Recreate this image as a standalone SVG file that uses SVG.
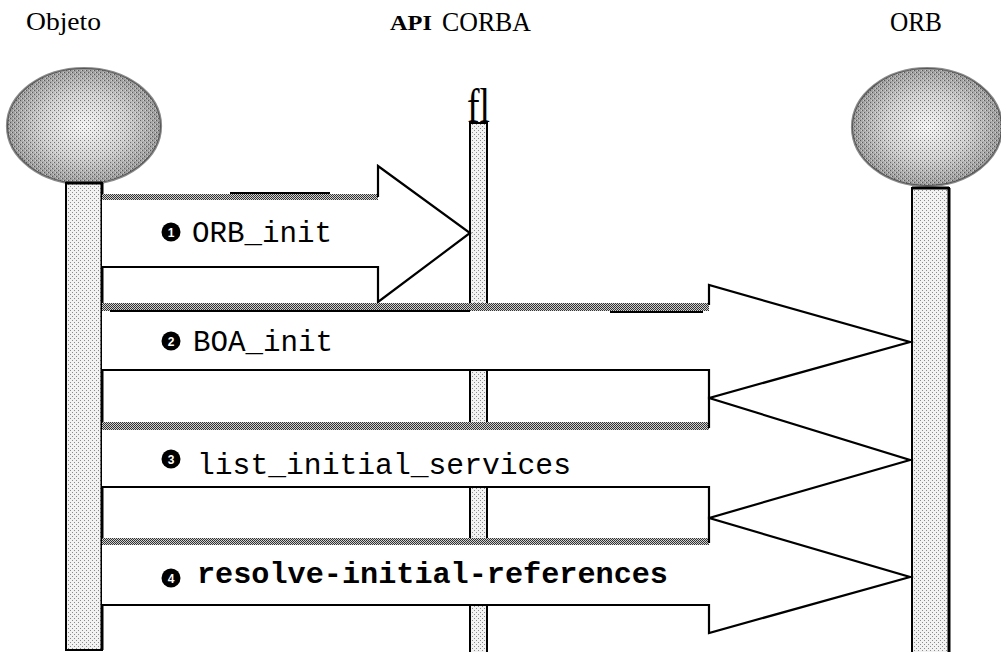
<svg xmlns="http://www.w3.org/2000/svg" width="1001" height="652" viewBox="0 0 1001 652">
<style>
.hdr{font-family:"Liberation Serif","Times New Roman",serif;fill:#000}
.lbl{font-family:"Liberation Mono","Courier New",monospace;fill:#000}
.edge{fill:none;stroke:#000;stroke-width:2.2;stroke-linejoin:miter}
.body{fill:#fff;stroke:none}
.bar{fill:url(#dith);stroke:#000;stroke-width:2}
.band{fill:url(#band)}
.bul{fill:#000}
.num{font-family:"Liberation Sans",Arial,sans-serif;font-size:12px;font-weight:bold;fill:#fff;text-anchor:middle}
</style>
<defs>
<pattern id="dith" width="4" height="4" patternUnits="userSpaceOnUse">
<rect width="4" height="4" fill="#f2f2f2"/>
<rect x="0" y="0" width="1" height="1" fill="#8a8a8a"/>
<rect x="2" y="2" width="1" height="1" fill="#8a8a8a"/>
</pattern>
<pattern id="band" width="2" height="2" patternUnits="userSpaceOnUse">
<rect width="2" height="2" fill="#d0d0d0"/>
<rect x="0" y="0" width="1" height="1" fill="#333"/>
<rect x="1" y="1" width="1" height="1" fill="#333"/>
</pattern>
<pattern id="dots" width="4" height="4" patternUnits="userSpaceOnUse">
<rect x="0" y="0" width="1" height="1" fill="#000"/>
<rect x="2" y="2" width="1" height="1" fill="#000"/>
<rect x="3" y="0" width="1" height="1" fill="#fff"/>
<rect x="1" y="2" width="1" height="1" fill="#fff"/>
</pattern>
<radialGradient id="eg" cx="0.5" cy="0.5" r="0.5">
<stop offset="0" stop-color="#f4f4f4"/>
<stop offset="0.55" stop-color="#d0d0d0"/>
<stop offset="1" stop-color="#9a9a9a"/>
</radialGradient>
</defs>
<rect width="1001" height="652" fill="#fff"/>

<g id="objeto">
<text class="hdr" x="26" y="30" font-size="25" textLength="75" lengthAdjust="spacingAndGlyphs">Objeto</text>
<ellipse cx="84" cy="126" rx="77" ry="58" fill="url(#eg)"/>
<ellipse cx="84" cy="126" rx="77" ry="58" fill="url(#dots)" opacity="0.45" stroke="#000" stroke-width="2.2"/>
<rect class="bar" x="66" y="183" width="36" height="467"/>
<line x1="102" y1="183" x2="102" y2="650" stroke="#000" stroke-width="3"/>
<line x1="66" y1="183" x2="102" y2="183" stroke="#000" stroke-width="3"/>
</g>

<g id="api-corba">
<text class="hdr" x="390" y="30" font-size="21" font-weight="bold" textLength="42" lengthAdjust="spacingAndGlyphs">API</text>
<text class="hdr" x="442" y="31" font-size="27" textLength="89" lengthAdjust="spacingAndGlyphs">CORBA</text>
<text class="hdr" x="467" y="122" font-size="48" textLength="23" lengthAdjust="spacingAndGlyphs">fl</text>
<rect class="bar" x="470" y="123" width="17" height="535"/>
</g>

<g id="orb">
<text class="hdr" x="890" y="31" font-size="27" textLength="52" lengthAdjust="spacingAndGlyphs">ORB</text>
<ellipse cx="927" cy="127" rx="75" ry="59" fill="url(#eg)"/>
<ellipse cx="927" cy="127" rx="75" ry="59" fill="url(#dots)" opacity="0.45" stroke="#000" stroke-width="2.2"/>
<rect class="bar" x="912" y="188" width="37" height="470"/>
<line x1="912" y1="188" x2="949" y2="188" stroke="#000" stroke-width="3"/>
<line x1="949" y1="188" x2="949" y2="652" stroke="#000" stroke-width="3"/>
</g>

<g id="connectors">
<g id="msg1">
<polygon class="body" points="102,197 378,197 378,166 470,233 378,302 378,267 102,267"/>
<rect class="band" x="102" y="194" width="276" height="6"/>
<line x1="230" y1="193" x2="330" y2="193" stroke="#000" stroke-width="2"/>
<path class="edge" d="M378,197 V166 L470,233 L378,302 V267 H102"/>
<circle class="bul" cx="171" cy="232" r="9.5"/>
<text class="num" x="171" y="236.5">1</text>
<text class="lbl" x="192" y="242" font-size="29" textLength="140" lengthAdjust="spacingAndGlyphs">ORB_init</text>
</g>
<g id="msg2">
<polygon class="body" points="102,307 709,307 709,285 910,342 709,398 709,370 102,370"/>
<rect class="band" x="102" y="303" width="607" height="8"/>
<line x1="110" y1="311" x2="470" y2="311" stroke="#000" stroke-width="2"/>
<line x1="610" y1="312" x2="703" y2="312" stroke="#000" stroke-width="2"/>
<path class="edge" d="M709,305 V285 L910,342 L709,398 V370 H102"/>
<circle class="bul" cx="171" cy="341" r="9.5"/>
<text class="num" x="171" y="345.5">2</text>
<text class="lbl" x="193" y="351" font-size="29" textLength="140" lengthAdjust="spacingAndGlyphs">BOA_init</text>
</g>
<g id="msg3">
<polygon class="body" points="102,426 709,426 709,398 910,460 709,518 709,487 102,487"/>
<rect class="band" x="102" y="422" width="607" height="8"/>
<path class="edge" d="M709,428 V398 L910,460 L709,518 V487 H102"/>
<circle class="bul" cx="171" cy="459" r="9.5"/>
<text class="num" x="171" y="463.5">3</text>
<text class="lbl" x="197" y="474" font-size="29" textLength="374" lengthAdjust="spacingAndGlyphs">list_initial_services</text>
</g>
<g id="msg4">
<polygon class="body" points="102,542 709,542 709,518 910,577 709,633 709,605 102,605"/>
<rect class="band" x="102" y="538" width="607" height="7"/>
<path class="edge" d="M709,543 V518 L910,577 L709,633 V605 H102"/>
<circle class="bul" cx="171" cy="578" r="9.5"/>
<text class="num" x="171" y="582.5">4</text>
<text class="lbl" x="197" y="583" font-size="29" font-weight="bold" textLength="471" lengthAdjust="spacingAndGlyphs">resolve-initial-references</text>
</g>
</g>
</svg>
